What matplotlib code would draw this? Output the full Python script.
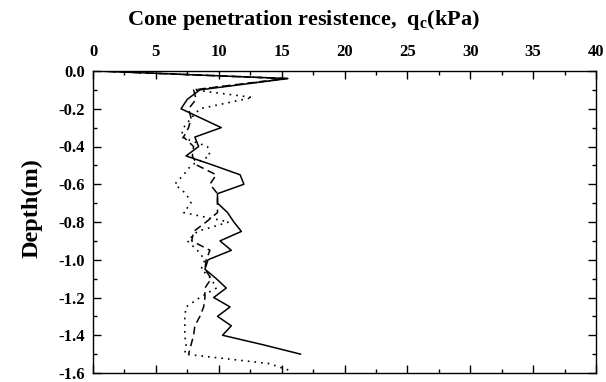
import matplotlib
matplotlib.use("Agg")
import matplotlib.pyplot as plt
from matplotlib.ticker import MultipleLocator, FuncFormatter

plt.rcParams['font.family'] = ['Liberation Serif', 'DejaVu Serif']
plt.rcParams['font.weight'] = 'bold'
plt.rcParams['axes.unicode_minus'] = False
plt.rcParams['mathtext.fontset'] = 'custom'
plt.rcParams['mathtext.rm'] = 'Liberation Serif:bold'
plt.rcParams['mathtext.default'] = 'rm'

depth = [0.00, -0.04, -0.10, -0.15, -0.20, -0.25, -0.30, -0.35, -0.40, -0.45,
         -0.50, -0.55, -0.60, -0.65, -0.70, -0.75, -0.80, -0.85, -0.90, -0.95,
         -1.00, -1.05, -1.10, -1.15, -1.20, -1.25, -1.30, -1.35, -1.40, -1.45,
         -1.50]
qc_solid = [0.3, 15.5, 8.5, 7.5, 7.0, 8.6, 10.2, 8.1, 8.4, 7.4,
            9.6, 11.7, 12.0, 9.9, 9.9, 10.7, 11.2, 11.8, 10.1, 11.0,
            9.15, 8.9, 9.8, 10.6, 9.6, 10.9, 9.9, 11.0, 10.3, 13.5,
            16.5]
qc_dashed = [0.3, 15.3, 8.0, 8.2, 7.6, 7.8, 7.6, 7.2, 8.0, 7.9,
             8.3, 9.8, 9.3, 9.9, 9.9, 9.9, 9.0, 8.0, 7.85, 9.3,
             9.0, 8.9, 9.4, 8.9, 8.9, 8.8, 8.5, 8.1, 8.0, 7.8,
             7.6]
depth_dot = [0.00, -0.04, -0.10, -0.14, -0.20, -0.25, -0.30, -0.35, -0.40, -0.45,
             -0.50, -0.55, -0.60, -0.65, -0.70, -0.75, -0.80, -0.85, -0.90, -0.95,
             -1.00, -1.05, -1.10, -1.15, -1.20, -1.25, -1.30, -1.35, -1.40, -1.45,
             -1.50, -1.55, -1.59]
qc_dotted = [0.5, 15.5, 8.0, 12.7, 8.5, 7.8, 7.2, 7.0, 9.1, 9.3,
             7.8, 7.2, 6.5, 7.4, 7.8, 7.2, 10.8, 8.3, 7.5, 8.3,
             8.9, 8.6, 9.4, 9.8, 8.5, 7.4, 7.3, 7.3, 7.3, 7.4,
             7.3, 14.0, 15.8]

fig = plt.figure(figsize=(6.06, 3.82), dpi=100)
ax = fig.add_axes([93 / 606, 1 - 373 / 382, 503 / 606, (373 - 71) / 382])

ax.plot(qc_solid, depth, color='black', lw=1.1, ls='-')
ax.plot(qc_dashed, depth, color='black', lw=1.1, ls=(0, (5, 3)))
ax.plot(qc_dotted, depth_dot, color='black', lw=1.2, ls=(0, (1, 3)))

ax.set_xlim(0, 40)
ax.set_ylim(-1.6, 0.0)
ax.xaxis.set_major_locator(MultipleLocator(5))
ax.xaxis.set_minor_locator(MultipleLocator(2.5))
ax.yaxis.set_major_locator(MultipleLocator(0.2))
ax.yaxis.set_minor_locator(MultipleLocator(0.1))
ax.yaxis.set_major_formatter(FuncFormatter(lambda v, p: '%.1f' % (0.0 if abs(v) < 1e-9 else v)))
ax.xaxis.set_major_formatter(FuncFormatter(lambda v, p: '%d' % round(v)))

ax.xaxis.tick_top()
ax.tick_params(axis='x', which='both', direction='in', top=True, bottom=True,
               labeltop=True, labelbottom=False, labelsize=12, pad=8)
ax.tick_params(axis='y', which='both', direction='in', left=True, right=True,
               labelsize=12, pad=6)
ax.tick_params(which='major', length=6, width=1)
ax.tick_params(which='minor', length=3, width=1)
for lab in ax.get_xticklabels() + ax.get_yticklabels():
    lab.set_fontweight('bold')
for s in ax.spines.values():
    s.set_linewidth(1.0)

fig.text(0.5, 1 - 20 / 382, r'Cone penetration resistence,  q$_{c}$(kPa)',
         fontsize=16, fontweight='bold', ha='center', va='center')
fig.text(32 / 606, 1 - 208 / 382, 'Depth(m)', fontsize=17.5, fontweight='bold',
         rotation=90, ha='center', va='center')

fig.savefig('out.png', dpi=100)
